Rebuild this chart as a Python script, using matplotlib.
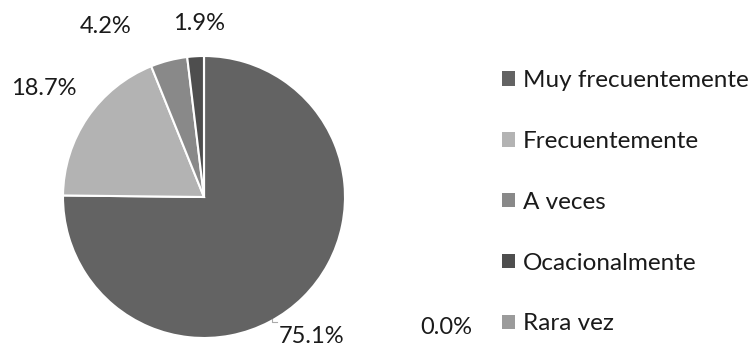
import matplotlib
matplotlib.use("Agg")
import matplotlib.pyplot as plt
from matplotlib.patches import Patch
import numpy as np

categories = ["Muy frecuentemente", "Frecuentemente", "A veces", "Ocacionalmente", "Rara vez"]
values = [75.1, 18.7, 4.2, 1.9, 0.0]
labels = ["75.1%", "18.7%", "4.2%", "1.9%", "0.0%"]
colors = ["#636363", "#b3b3b3", "#898989", "#4e4e4e", "#9b9b9b"]

plt.rcParams['font.family'] = ['Lato', 'DejaVu Sans']

W, H = 754, 347
fig = plt.figure(figsize=(W/100, H/100), dpi=100)
cx, cy, r = 204, 197, 141
ax = fig.add_axes([(cx - r)/W, (H - cy - r)/H, 2*r/W, 2*r/H])
ax.pie(values, colors=colors, startangle=90, counterclock=False, radius=1,
       wedgeprops=dict(edgecolor="white", linewidth=1.5))
ax.set_xlim(-1, 1)
ax.set_ylim(-1, 1)
ax.set_aspect("equal")
ax.axis("off")

label_pos = [(0.766, -0.99), (-1.135, 0.773), (-0.70, 1.206), (-0.035, 1.227), (1.716, -0.922)]
for (x, y), t in zip(label_pos, labels):
    ax.text(x, y, t, ha="center", va="center", fontsize=17, color="#1a1a1a", clip_on=False)
# small leader line for 75.1%
ax.plot([0.48, 0.48, 0.52], [-0.865, -0.885, -0.885], color="#aaaaaa", lw=0.8, clip_on=False)

handles = [Patch(facecolor=c, edgecolor="none") for c in colors]
fig.legend(handles, categories, loc="upper left", bbox_to_anchor=(502/W, 1 - 70/H),
           frameon=False, fontsize=17.5, labelspacing=1.64, handlelength=0.55, handleheight=0.55,
           handletextpad=0.3, borderaxespad=0, borderpad=0, labelcolor="#1a1a1a")

fig.savefig("out.png", dpi=100)
